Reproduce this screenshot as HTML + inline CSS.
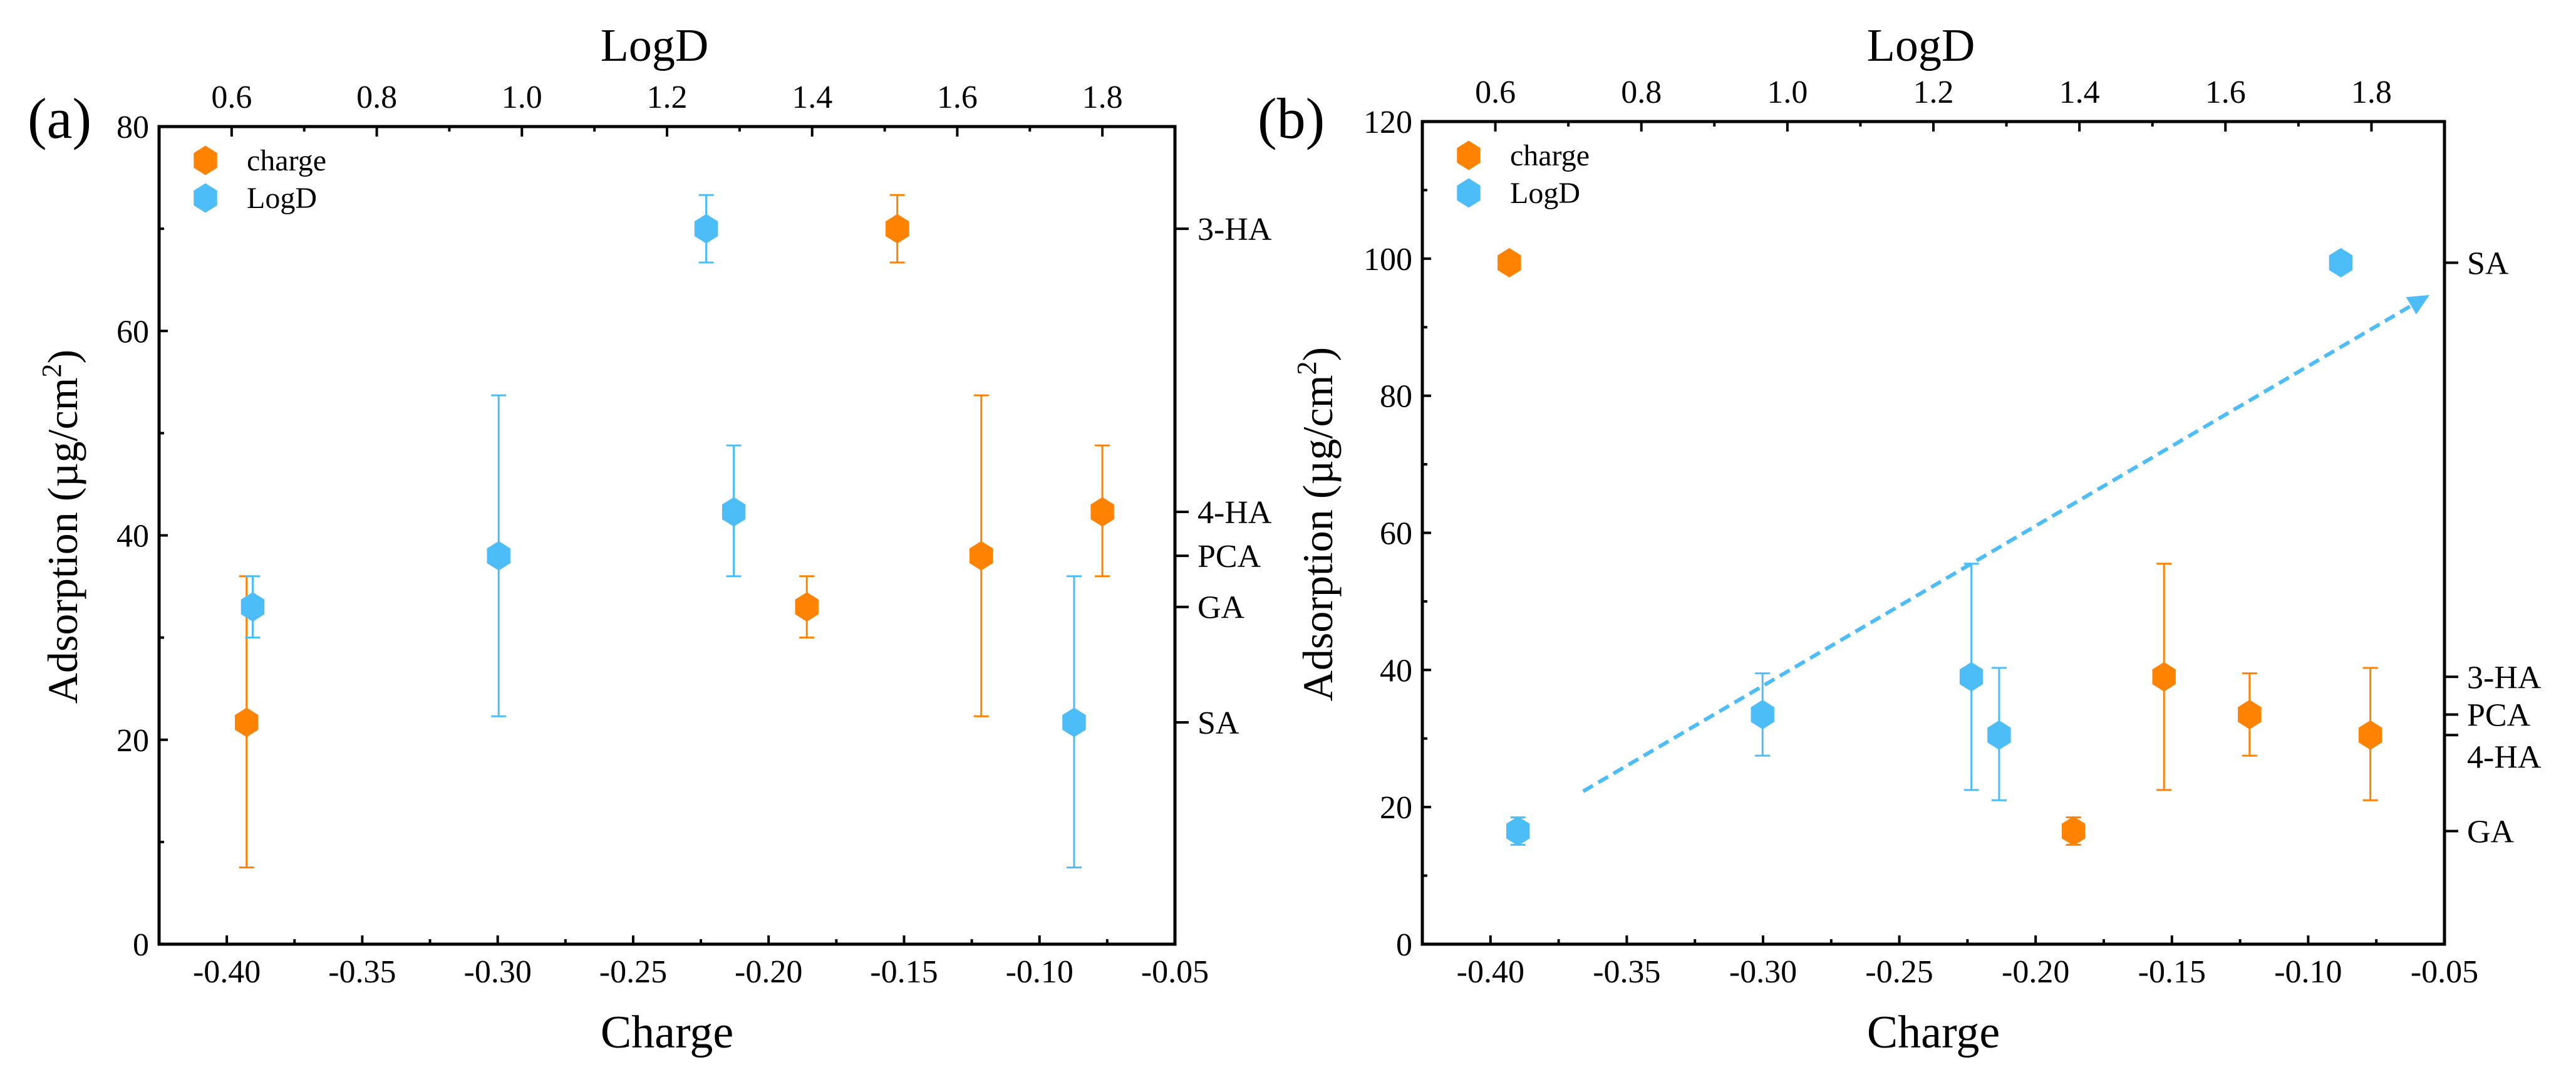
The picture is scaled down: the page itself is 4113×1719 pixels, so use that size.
<!DOCTYPE html>
<html><head><meta charset="utf-8"><style>
html,body{margin:0;padding:0;background:#fff;}
svg{display:block;font-family:"Liberation Serif",serif;}
</style></head><body>
<svg id="fig" width="4113" height="1719" viewBox="0 0 4113 1719" xmlns="http://www.w3.org/2000/svg"></svg>
<script>
// Panel (a) data
const aChargeX = [-0.3927, -0.1859, -0.1525, -0.1215, -0.0768];
const aChargeY = [21.7, 33, 70, 38, 42.3];
const aChargeLo = [7.5, 30, 66.7, 22.3, 36];
const aChargeHi = [36, 36, 73.3, 53.7, 48.8];
const aLogDX = [0.629, 0.968, 1.254, 1.292, 1.761];
const aLogDY = [33, 38, 70, 42.3, 21.7];
const aLogDLo = [30, 22.3, 66.7, 36, 7.5];
const aLogDHi = [36, 53.7, 73.3, 48.8, 36];
const aRightLabels = ["3-HA", "4-HA", "PCA", "GA", "SA"];
const aRightVals = [70, 42.3, 38, 33, 21.7];
const aYTicks = [0, 20, 40, 60, 80];
// Panel (b) data
const bChargeX = [-0.3931, -0.1861, -0.1529, -0.1215, -0.0772];
const bChargeY = [99.4, 16.5, 39, 33.5, 30.5];
const bChargeLo = [99.4, 14.5, 22.5, 27.5, 21];
const bChargeHi = [99.4, 18.5, 55.5, 39.5, 40.3];
const bLogDX = [0.631, 0.966, 1.252, 1.290, 1.758];
const bLogDY = [16.5, 33.5, 39, 30.5, 99.4];
const bLogDLo = [14.5, 27.5, 22.5, 21, 99.4];
const bLogDHi = [18.5, 39.5, 55.5, 40.3, 99.4];
const bRightLabels = ["SA", "3-HA", "PCA", "4-HA", "GA"];
const bRightVals = [99.4, 39, 33.5, 30.5, 16.5];
const bYTicks = [0, 20, 40, 60, 80, 100, 120];
const bArrowX = [-0.366, -0.0555];
const bArrowY = [22.3, 94.7];
// shared ticks
const chargeTicks = [-0.40, -0.35, -0.30, -0.25, -0.20, -0.15, -0.10, -0.05];
const logdTicks = [0.6, 0.8, 1.0, 1.2, 1.4, 1.6, 1.8];

const NS = "http://www.w3.org/2000/svg";
const svg = document.getElementById('fig');
function mk(tag, attrs, parent, text) {
  const e = document.createElementNS(NS, tag);
  for (const k in attrs) e.setAttribute(k, attrs[k]);
  if (text !== undefined) e.textContent = text;
  (parent || svg).appendChild(e);
  return e;
}
const ORANGE = "#ff8200", BLUE = "#4dbdf7";
function hex(g, cx, cy, r, color) {
  let pts = [];
  for (let i = 0; i < 6; i++) {
    const a = Math.PI / 180 * (60 * i - 90);
    pts.push((cx + r * 0.92 * Math.cos(a)).toFixed(1) + "," + (cy + r * Math.sin(a)).toFixed(1));
  }
  return mk('polygon', {points: pts.join(' '), fill: color}, g);
}

function panel(cfg) {
  const g = mk('g', {});
  
  
  const L = cfg.L, R = cfg.R, T = cfg.T, B = cfg.B;
  const xs = v => L + (v - (-0.425)) / (0.375) * (R - L);
  const xl = v => L + (v - 0.5) / 1.4 * (R - L);
  const ys = v => B - v / cfg.ymax * (B - T);
  cfg.yTicks.forEach((v, i) => {
    const y = ys(v);
    const t = mk('line', {x1: L, x2: L + 14, y1: y, y2: y, stroke: '#000', 'stroke-width': 4}, g);
    
    
    const lb = mk('text', {x: L - 16, y: y + 18, 'font-size': 52, 'text-anchor': 'end'}, g, String(v));
    
    
    if (i < cfg.yTicks.length - 1) {
      const ym = ys(v + (cfg.yTicks[1] - cfg.yTicks[0]) / 2);
      mk('line', {x1: L, x2: L + 8, y1: ym, y2: ym, stroke: '#000', 'stroke-width': 4}, g);
    }
  });
  chargeTicks.forEach(v => {
    const x = xs(v);
    const t = mk('line', {x1: x, x2: x, y1: B, y2: B - 14, stroke: '#000', 'stroke-width': 4}, g);
    
    
    const lb = mk('text', {x: x, y: B + 61, 'font-size': 52, 'text-anchor': 'middle'}, g, v.toFixed(2));
    
    
    const xm = xs(v - 0.025);
    if (xm > L) mk('line', {x1: xm, x2: xm, y1: B, y2: B - 8, stroke: '#000', 'stroke-width': 4}, g);
  });
  logdTicks.forEach(v => {
    const x = xl(v);
    const t = mk('line', {x1: x, x2: x, y1: T, y2: T + 16, stroke: '#000', 'stroke-width': 4}, g);
    
    
    const lb = mk('text', {x: x, y: T - 30, 'font-size': 52, 'text-anchor': 'middle'}, g, v.toFixed(1));
    
    
    mk('line', {x1: xl(v + 0.1), x2: xl(v + 0.1), y1: T, y2: T + 8, stroke: '#000', 'stroke-width': 4}, g);
  });
  cfg.rightLabels.forEach((s, i) => {
    const y = ys(cfg.rightVals[i]);
    const t = mk('line', {x1: R, x2: R + 22, y1: y, y2: y, stroke: '#000', 'stroke-width': 4}, g);
    
    
    const dy = cfg.labelOffsets ? cfg.labelOffsets[i] : 0;
    const lb = mk('text', {x: R + 36, y: y + 18 + dy, 'font-size': 52}, g, s);
    
    
  });
  const fr = mk('rect', {x: L, y: T, width: R - L, height: B - T, fill: 'none', stroke: '#000', 'stroke-width': 5}, g);
  
  
  if (cfg.arrowX) {
    const x1 = xs(cfg.arrowX[0]), y1 = ys(cfg.arrowY[0]), x2 = xs(cfg.arrowX[1]), y2 = ys(cfg.arrowY[1]);
    const ang = Math.atan2(y2 - y1, x2 - x1);
    const bx = x2 - 34 * Math.cos(ang), by = y2 - 34 * Math.sin(ang);
    const ln = mk('line', {x1: x1, y1: y1, x2: bx, y2: by, stroke: BLUE, 'stroke-width': 6, 'stroke-dasharray': '18,10'}, g);
    
    
    const px = Math.sin(ang) * 16, py = -Math.cos(ang) * 16;
    const hd = mk('polygon', {points: `${x2},${y2} ${bx + px},${by + py} ${bx - px},${by - py}`, fill: BLUE}, g);
    
    
  }
  function series(X, Y, Lo, Hi, xf, color, nm) {
    X.forEach((xv, i) => {
      const x = xf(xv);
      if (Hi[i] !== Lo[i]) {
        const eb = mk('path', {d: `M${x},${ys(Lo[i])}V${ys(Hi[i])}M${x - 12},${ys(Lo[i])}H${x + 12}M${x - 12},${ys(Hi[i])}H${x + 12}`, stroke: color, 'stroke-width': 3, fill: 'none'}, g);
        
        
      }
      const p = hex(g, x, ys(Y[i]), 23.5, color);
      
      
    });
  }
  series(cfg.cX, cfg.cY, cfg.cLo, cfg.cHi, xs, ORANGE, 'charge');
  series(cfg.lX, cfg.lY, cfg.lLo, cfg.lHi, xl, BLUE, 'logd');
  const lg = mk('g', {}, g);
  
  
  hex(lg, L + 74, T + 54, 23.5, ORANGE);
  mk('text', {x: L + 140, y: T + 70, 'font-size': 48}, lg, 'charge');
  hex(lg, L + 74, T + 114, 23.5, BLUE);
  mk('text', {x: L + 140, y: T + 130, 'font-size': 48}, lg, 'LogD');
  const xt = mk('text', {x: (L + R) / 2, y: 1672, 'font-size': 74, 'text-anchor': 'middle'}, g, 'Charge');
  
  
  const tt = mk('text', {x: (L + R) / 2 - 20, y: 97, 'font-size': 74, 'text-anchor': 'middle'}, g, 'LogD');
  
  
  const yt = mk('text', {transform: `translate(${cfg.ytX},${(T + B) / 2 - 14}) rotate(-90)`, 'font-size': 68, 'text-anchor': 'middle'}, g);
  
  
  mk('tspan', {}, yt, 'Adsorption (\u00b5g/cm');
  mk('tspan', {'font-size': 44, dy: -26}, yt, '2');
  mk('tspan', {dy: 26}, yt, ')');
  const pl = mk('text', {x: cfg.plX, y: 220, 'font-size': 92}, g, cfg.pl);
  
  
}

panel({name: 'panel-a', L: 254, R: 1876, T: 202, B: 1507, ymax: 80, yTicks: aYTicks,
  cX: aChargeX, cY: aChargeY, cLo: aChargeLo, cHi: aChargeHi,
  lX: aLogDX, lY: aLogDY, lLo: aLogDLo, lHi: aLogDHi,
  rightLabels: aRightLabels, rightVals: aRightVals, ytX: 123, plX: 44, pl: '(a)'});
panel({name: 'panel-b', L: 2271, R: 3903, T: 194, B: 1507, ymax: 120, yTicks: bYTicks,
  cX: bChargeX, cY: bChargeY, cLo: bChargeLo, cHi: bChargeHi,
  lX: bLogDX, lY: bLogDY, lLo: bLogDLo, lHi: bLogDHi,
  rightLabels: bRightLabels, rightVals: bRightVals, labelOffsets: [0, 0, 0, 34, 0],
  arrowX: bArrowX, arrowY: bArrowY, ytX: 2127, plX: 2008, pl: '(b)'});
</script>
</body></html>
